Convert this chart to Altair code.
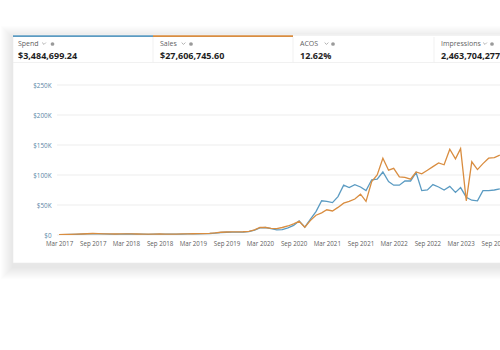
import altair as alt
import pandas as pd

# ---- data -----------------------------------------------------------------
# monthly points, Mar 2017 .. Oct 2023
months = pd.date_range("2017-03-01", periods=80, freq="MS").strftime("%Y-%m-%dT00:00:00").tolist()

# Spend per month, thousands of dollars
spend_k = [
    0.4, 0.6, 0.8, 1.0, 1.4, 1.8, 2.2, 2.0, 1.8, 1.6, 1.5, 1.6, 1.8, 1.7, 1.5, 1.3,
    1.2, 1.3, 1.5, 1.4, 1.3, 1.4, 1.6, 1.8, 1.9, 2.0, 2.2, 2.5, 3.2, 4.2, 4.6, 4.7,
    4.8, 5.0, 5.6, 8.0, 12.0, 12.5, 10.5, 8.5, 9.0, 12.0, 16.0, 23.5, 13.0,
    26, 39, 57, 56, 54, 64, 83, 79, 84, 80, 74, 92, 93, 105, 89, 83, 83, 90, 90,
    104, 74, 75, 84, 80, 75, 81, 71, 79, 63, 58, 57, 74, 74, 75, 77,
]
# Sales per month, thousands of dollars
sales_k = [
    0.5, 0.8, 1.0, 1.3, 1.7, 2.1, 2.5, 2.3, 2.0, 1.8, 1.7, 1.8, 2.0, 1.9, 1.7, 1.5,
    1.4, 1.5, 1.7, 1.6, 1.5, 1.6, 1.8, 2.0, 2.1, 2.2, 2.4, 2.8, 3.6, 4.6, 5.0, 5.1,
    5.2, 5.4, 6.0, 8.5, 12.5, 12.5, 11.0, 10.5, 12.5, 15.0, 18.5, 23.0, 13.0,
    24, 33, 37, 42, 40, 46, 53, 56, 60, 68, 56, 89, 100, 128, 108, 111, 97, 96, 93,
    105, 102, 108, 114, 120, 117, 143, 127, 144, 57, 122, 109, 119, 128, 129, 133,
]

metric_names = ["Spend", "Sales"]
metric_colors = ["#5b9bc2", "#d98d40"]

# summary tiles above the chart
tile_labels = ["Spend", "Sales", "ACOS", "Impressions"]
tile_values = ["$3,484,699.24", "$27,606,745.60", "12.62%", "2,463,704,277"]

y_ticks = [0, 50000, 100000, 150000, 200000, 250000]
x_ticks = [(y, m) for y in range(2017, 2024) for m in (3, 9)]

df = pd.DataFrame({
    "month": months * 2,
    "metric": ["Spend"] * len(months) + ["Sales"] * len(months),
    "value": [v * 1000 for v in spend_k + sales_k],
})
grid_df = pd.DataFrame({"value": y_ticks})
one = pd.DataFrame({"k": [0]})

# ---- layout (plot area origin is at page x=57, y=85) -------------------------
W, H = 443, 150
OX, OY = 57, 85
FONT = "Open Sans"


def px(x):
    return x - OX


def py(y):
    return y - OY


base = alt.Chart(one)
layers = []

# soft card shadow
for i in range(1, 13):
    layers.append(
        base.mark_rect(color="#000000", opacity=0.0075).encode(
            x=alt.value(px(13 - i)), x2=alt.value(px(520)),
            y=alt.value(py(34 - i + 4)), y2=alt.value(py(263 + i + 4)),
        )
    )

# white card
layers.append(
    base.mark_rect(color="#ffffff", stroke="#ebebeb", strokeWidth=0.6).encode(
        x=alt.value(px(13)), x2=alt.value(px(520)),
        y=alt.value(py(34)), y2=alt.value(py(263)),
    )
)

# tile borders
tile_x = [13, 153, 293, 434, 520]
for i in range(4):
    layers.append(
        base.mark_rule(color="#e6e6e6", strokeWidth=1).encode(
            x=alt.value(px(tile_x[i])), x2=alt.value(px(tile_x[i + 1])),
            y=alt.value(py(35)),
        )
    )
for i in range(2):
    layers.append(
        base.mark_rect(color=metric_colors[i]).encode(
            x=alt.value(px(tile_x[i])), x2=alt.value(px(tile_x[i + 1])),
            y=alt.value(py(35.3)), y2=alt.value(py(37)),
        )
    )
for xd in tile_x[1:4]:
    layers.append(
        base.mark_rule(color="#eeeeee", strokeWidth=0.8).encode(
            x=alt.value(px(xd)), y=alt.value(py(37)), y2=alt.value(py(62.5)),
        )
    )
layers.append(
    base.mark_rule(color="#eeeeee", strokeWidth=0.8).encode(
        x=alt.value(px(13)), x2=alt.value(px(520)), y=alt.value(py(62.5)),
    )
)

# tile texts, chevrons and info icons
label_x = [18, 160, 300, 441]
chev_x = [44, 183.5, 326.5, 485]
info_x = [52.5, 191, 333, 492]
for i in range(4):
    layers.append(
        base.mark_text(text=tile_labels[i], align="left", baseline="middle",
                       font=FONT, fontSize=7, color="#5f5f5f").encode(
            x=alt.value(px(label_x[i])), y=alt.value(py(43.8)),
        )
    )
    layers.append(
        base.mark_point(shape="M-1,-0.5L0,0.5L1,-0.5", filled=False, size=14,
                        color="#777777", strokeWidth=0.8).encode(
            x=alt.value(px(chev_x[i])), y=alt.value(py(43.5)),
        )
    )
    layers.append(
        base.mark_circle(size=14, color="#9a9a9a", opacity=1).encode(
            x=alt.value(px(info_x[i])), y=alt.value(py(44)),
        )
    )
    layers.append(
        base.mark_text(text=tile_values[i], align="left", baseline="middle",
                       font=FONT, fontSize=9, fontWeight="bold", color="#1f1f1f").encode(
            x=alt.value(px(label_x[i])), y=alt.value(py(55.5)),
        )
    )

y_scale = alt.Scale(domain=[0, 250000], nice=False, zero=True)
x_scale = alt.Scale(domain=[alt.DateTime(year=2017, month=2, date=18),
                            alt.DateTime(year=2023, month=10, date=2)])
y_axis = alt.Axis(
    values=y_ticks, grid=False, domain=False, ticks=False, tickSize=0,
    labelPadding=6, labelFont=FONT, labelFontSize=6.3, labelColor="#5a86a6",
    labelExpr="datum.value == 0 ? '$0' : '$' + (datum.value / 1000) + 'K'",
    zindex=1,
)

# horizontal gridlines
layers.append(
    alt.Chart(grid_df).mark_rule(color="#e8e8e8", strokeWidth=0.8).encode(
        y=alt.Y("value:Q", scale=y_scale, axis=y_axis, title=None),
        x=alt.value(0), x2=alt.value(W),
    )
)

# the two series
lines = alt.Chart(df).mark_line(strokeWidth=1.3, clip=True).encode(
    x=alt.X(
        "month:T", scale=x_scale, title=None,
        axis=alt.Axis(
            values=[alt.DateTime(year=y, month=m, date=1) for y, m in x_ticks],
            format="%b %Y", grid=False, domain=False, ticks=False, tickSize=0,
            labelFlush=False, labelOverlap=False, labelPadding=5.5,
            labelFont=FONT, labelFontSize=6.2, labelColor="#606060", zindex=1,
        ),
    ),
    y=alt.Y("value:Q", scale=y_scale, title=None, axis=y_axis),
    color=alt.Color("metric:N", scale=alt.Scale(domain=metric_names, range=metric_colors),
                    legend=None),
)
layers.append(lines)

chart = alt.layer(*layers).properties(
    width=W, height=H,
    autosize=alt.AutoSizeParams(type="none"),
    padding={"left": OX, "top": OY, "right": 0, "bottom": 350 - OY - H},
    background="#ffffff",
).configure_view(stroke=None)

chart.save("out.html", embed_options={"renderer": "svg", "actions": False})
